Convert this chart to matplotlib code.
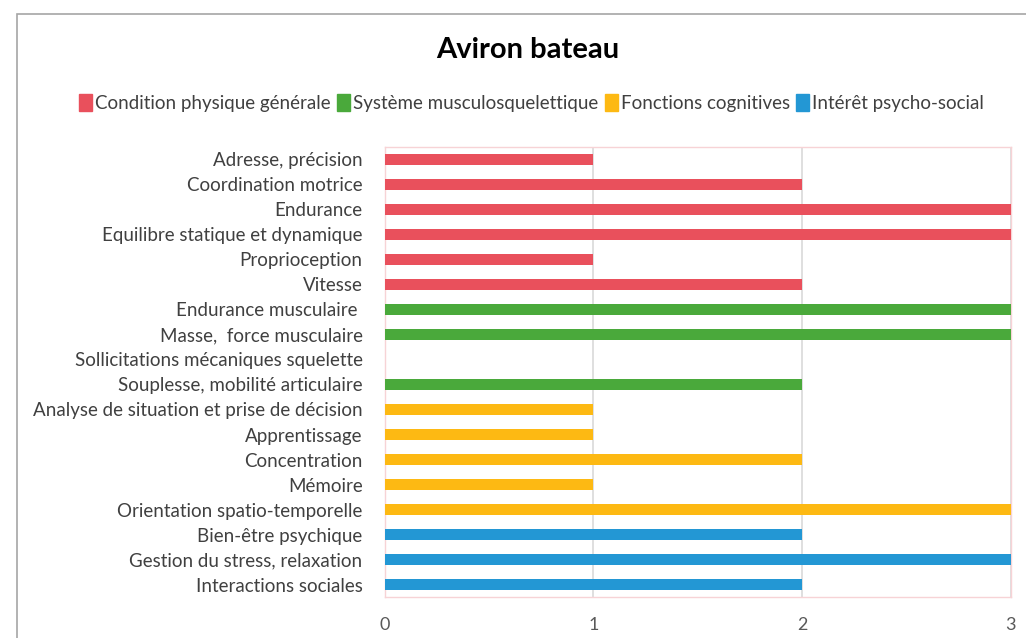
import matplotlib
matplotlib.use("Agg")
from matplotlib import pyplot as plt
from matplotlib.patches import Patch, Rectangle

categories = [
    "Adresse, précision",
    "Coordination motrice",
    "Endurance",
    "Equilibre statique et dynamique",
    "Proprioception",
    "Vitesse",
    "Endurance musculaire ",
    "Masse,  force musculaire",
    "Sollicitations mécaniques squelette",
    "Souplesse, mobilité articulaire",
    "Analyse de situation et prise de décision",
    "Apprentissage",
    "Concentration",
    "Mémoire",
    "Orientation spatio-temporelle",
    "Bien-être psychique",
    "Gestion du stress, relaxation",
    "Interactions sociales",
]
values = [1, 2, 3, 3, 1, 2, 3, 3, 0, 2, 1, 1, 2, 1, 3, 2, 3, 2]
groups = [0, 0, 0, 0, 0, 0, 1, 1, 1, 1, 2, 2, 2, 2, 2, 3, 3, 3]
group_names = [
    "Condition physique générale",
    "Système musculosquelettique",
    "Fonctions cognitives",
    "Intérêt psycho-social",
]
group_colors = ["#E9505C", "#4AA93B", "#FDB913", "#2397D4"]
x_ticks = [0, 1, 2, 3]

plt.rcParams["font.family"] = ["Lato", "DejaVu Sans"]

fig = plt.figure(figsize=(10.26, 6.38), dpi=100)
ax = fig.add_axes([0.375, 0.064, 0.610, 0.706])

positions = list(range(len(categories)))
bar_colors = [group_colors[g] for g in groups]
ax.barh(positions, values, height=0.44, color=bar_colors,
        linewidth=0, zorder=3)

ax.set_ylim(len(categories) - 0.5, -0.5)
ax.set_xlim(0, 3)
ax.set_yticks(positions)
ax.set_yticklabels(categories, fontsize=13.5, color="#404040")
ax.set_xticks(x_ticks)
ax.set_xticklabels([str(t) for t in x_ticks], fontsize=13, color="#595959")
ax.tick_params(axis="y", length=0, pad=16)
ax.tick_params(axis="x", length=0, pad=14)
ax.grid(axis="x", color="#D9D9D9", linewidth=1.2, zorder=0)
for spine in ax.spines.values():
    spine.set_color("#F7D3D6")
    spine.set_linewidth(1.0)

fig.text(0.514, 0.921, "Aviron bateau", ha="center", va="center",
         fontsize=21, fontweight="bold", color="black")

handles = [Patch(facecolor=c, edgecolor=c, label=n)
           for c, n in zip(group_colors, group_names)]
fig.legend(handles=handles, loc="center", bbox_to_anchor=(0.518, 0.839),
           ncol=4, frameon=False, fontsize=13.5, handlelength=0.7,
           handleheight=1.0, handletextpad=0.15, columnspacing=0.35,
           labelcolor="#404040")

# cadre gris autour du graphique
fig.add_artist(Rectangle((0.0166, -0.1), 1.2, 1.078, transform=fig.transFigure,
                         fill=False, edgecolor="#A6A6A6", linewidth=1.2))

fig.savefig("out.png", dpi=100)
